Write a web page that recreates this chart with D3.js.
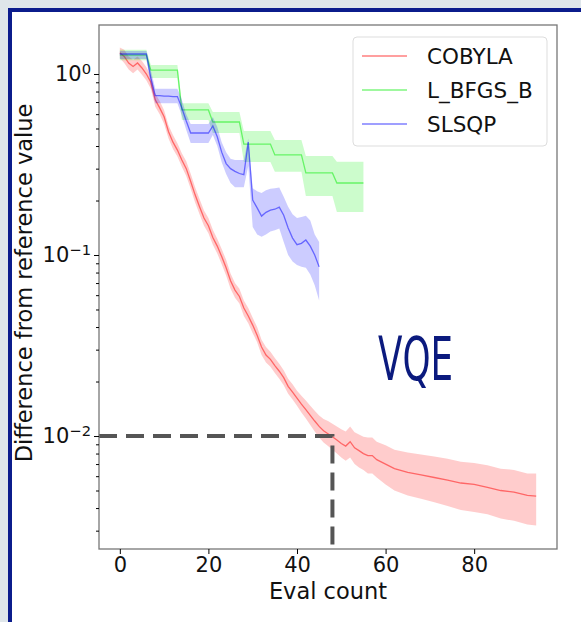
<!DOCTYPE html>
<html>
<head>
<meta charset="utf-8">
<script src="https://cdn.jsdelivr.net/npm/d3@7"></script>
<style>
body { margin: 0; background: #dfe6ea; }
svg { display: block; }
</style>
</head>
<body>
<svg></svg>
<script>
var seriesNames = ['COBYLA', 'L_BFGS_B', 'SLSQP'];
var seriesColors = ['#ff0000', '#00ee00', '#0000ff'];

var xTicks = [0, 20, 40, 60, 80];
var yTicks = [1, 0.1, 0.01];
var yTickExponents = ['0', '\u22121', '\u22122'];

var cobylaEval = [0, 1, 2, 3, 4, 5, 6, 7, 8, 9, 10, 11, 12, 13, 14, 15, 16, 17, 18, 19,
    20, 21, 22, 23, 24, 25, 26, 27, 28, 29, 30, 31, 32, 33, 34, 35, 36, 37, 38, 39,
    40, 41, 42, 43, 44, 45, 46, 47, 48, 49, 50, 51, 52, 53, 54, 55, 56, 57, 58,
    60, 62, 65, 68, 71, 74, 77, 80, 83, 86, 89, 92, 94];
var cobylaMean = [1.31, 1.25, 1.15, 1.10, 1.15, 1.08, 1.00, 0.90, 0.72, 0.65, 0.58, 0.48, 0.42, 0.38, 0.335, 0.30, 0.255, 0.215, 0.185, 0.16,
    0.145, 0.125, 0.112, 0.098, 0.085, 0.072, 0.064, 0.059, 0.051, 0.046, 0.041, 0.036, 0.031, 0.028, 0.0265, 0.0245, 0.0228, 0.021, 0.0188, 0.0175,
    0.0162, 0.015, 0.014, 0.013, 0.0121, 0.0113, 0.0107, 0.0103, 0.0099, 0.0095, 0.0091, 0.0088, 0.0093, 0.0086, 0.0083, 0.0080, 0.0078, 0.0078, 0.0074,
    0.0070, 0.0066, 0.0063, 0.0061, 0.0059, 0.0057, 0.0055, 0.0054, 0.0052, 0.0050, 0.0049, 0.0047, 0.00466];
var cobylaLow = [1.22, 1.15, 1.06, 1.01, 1.06, 0.99, 0.92, 0.83, 0.66, 0.60, 0.53, 0.44, 0.385, 0.35, 0.307, 0.273, 0.232, 0.195, 0.168, 0.145,
    0.132, 0.114, 0.102, 0.089, 0.077, 0.065, 0.058, 0.054, 0.046, 0.042, 0.037, 0.033, 0.028, 0.0255, 0.0241, 0.0223, 0.0207, 0.0191, 0.0171, 0.0159,
    0.0147, 0.0135, 0.0125, 0.0115, 0.0106, 0.0098, 0.0092, 0.0088, 0.0084, 0.0080, 0.0076, 0.0073, 0.0076, 0.0070, 0.0067, 0.0065, 0.0062, 0.0062, 0.0059,
    0.0054, 0.0050, 0.0047, 0.0045, 0.0043, 0.0041, 0.0039, 0.0038, 0.0037, 0.0035, 0.0034, 0.00324, 0.0032];
var cobylaHigh = [1.40, 1.36, 1.25, 1.20, 1.25, 1.18, 1.09, 0.98, 0.78, 0.71, 0.63, 0.52, 0.46, 0.415, 0.365, 0.33, 0.281, 0.237, 0.204, 0.176,
    0.16, 0.138, 0.123, 0.108, 0.094, 0.079, 0.070, 0.065, 0.056, 0.051, 0.045, 0.040, 0.034, 0.031, 0.0292, 0.027, 0.0251, 0.0231, 0.0207, 0.0193,
    0.0178, 0.0167, 0.0157, 0.0147, 0.0138, 0.013, 0.0124, 0.0121, 0.0117, 0.0113, 0.0109, 0.0106, 0.0113, 0.0105, 0.0102, 0.0099, 0.0098, 0.0098, 0.0093,
    0.0089, 0.0084, 0.0081, 0.0079, 0.0077, 0.0075, 0.0072, 0.0071, 0.0069, 0.0066, 0.0065, 0.0062, 0.0062];

var lbfgsbMean = [1.27, 1.27, 1.27, 1.27, 1.27, 1.27, 1.27,
    1.05, 1.05, 1.05, 1.05, 1.05, 1.05, 1.05,
    0.633, 0.633, 0.633, 0.633, 0.633, 0.633, 0.633,
    0.543, 0.543, 0.543, 0.543, 0.543, 0.543, 0.543,
    0.41, 0.41, 0.41, 0.41, 0.41, 0.41, 0.41,
    0.357, 0.357, 0.357, 0.357, 0.357, 0.357, 0.357,
    0.284, 0.284, 0.284, 0.284, 0.284, 0.284, 0.284,
    0.25, 0.25, 0.25, 0.25, 0.25, 0.25, 0.25];
var lbfgsbLow = [1.19, 1.19, 1.19, 1.19, 1.19, 1.19, 1.19,
    0.95, 0.95, 0.95, 0.95, 0.95, 0.95, 0.95,
    0.557, 0.557, 0.557, 0.557, 0.557, 0.557, 0.557,
    0.472, 0.472, 0.472, 0.472, 0.472, 0.472, 0.472,
    0.326, 0.326, 0.326, 0.326, 0.326, 0.326, 0.326,
    0.288, 0.288, 0.288, 0.288, 0.288, 0.288, 0.288,
    0.212, 0.212, 0.212, 0.212, 0.212, 0.212, 0.212,
    0.173, 0.173, 0.173, 0.173, 0.173, 0.173, 0.173];
var lbfgsbHigh = [1.36, 1.36, 1.36, 1.36, 1.36, 1.36, 1.36,
    1.12, 1.12, 1.12, 1.12, 1.12, 1.12, 1.12,
    0.69, 0.69, 0.69, 0.69, 0.69, 0.69, 0.69,
    0.617, 0.617, 0.617, 0.617, 0.617, 0.617, 0.617,
    0.484, 0.484, 0.484, 0.484, 0.484, 0.484, 0.484,
    0.432, 0.432, 0.432, 0.432, 0.432, 0.432, 0.432,
    0.352, 0.352, 0.352, 0.352, 0.352, 0.352, 0.352,
    0.327, 0.327, 0.327, 0.327, 0.327, 0.327, 0.327];

var slsqpMean = [1.29, 1.29, 1.29, 1.29, 1.29, 1.29, 1.29, 0.95,
    0.76, 0.76, 0.755, 0.755, 0.75, 0.75, 0.65, 0.55,
    0.472, 0.472, 0.472, 0.472, 0.472,
    0.516, 0.45, 0.37, 0.32, 0.30, 0.29, 0.282, 0.278, 0.421,
    0.201, 0.182, 0.164, 0.172, 0.177, 0.179, 0.184, 0.166, 0.141, 0.124,
    0.114, 0.116, 0.121, 0.112, 0.10, 0.086];
var slsqpLow = [1.21, 1.21, 1.21, 1.21, 1.21, 1.21, 1.21, 0.86,
    0.69, 0.69, 0.69, 0.69, 0.69, 0.69, 0.59, 0.49,
    0.416, 0.416, 0.416, 0.416, 0.416,
    0.46, 0.40, 0.325, 0.28, 0.25, 0.237, 0.237, 0.237, 0.31,
    0.143, 0.13, 0.126, 0.13, 0.135, 0.137, 0.14, 0.118, 0.10, 0.092,
    0.088, 0.086, 0.085, 0.078, 0.068, 0.056];
var slsqpHigh = [1.34, 1.34, 1.34, 1.34, 1.34, 1.34, 1.34, 1.05,
    0.83, 0.83, 0.83, 0.83, 0.83, 0.83, 0.72, 0.60,
    0.529, 0.529, 0.529, 0.529, 0.529,
    0.578, 0.51, 0.42, 0.37, 0.34, 0.335, 0.335, 0.335, 0.44,
    0.234, 0.225, 0.22, 0.228, 0.232, 0.234, 0.236, 0.21, 0.185, 0.168,
    0.16, 0.162, 0.165, 0.155, 0.13, 0.118];

var targetEval = 48;
var targetValue = 0.01;

var width = 581;
var height = 622;
var plotLeft = 99, plotRight = 557, plotTop = 25, plotBottom = 549;
var font = 'DejaVu Sans, sans-serif';

var svg = d3.select('svg')
    .attr('width', width)
    .attr('height', height);

svg.append('rect')
    .attr('x', 10).attr('y', 10)
    .attr('width', 640).attr('height', 700)
    .attr('fill', '#ffffff')
    .attr('stroke', '#0b1c8c')
    .attr('stroke-width', 4);

var xScale = d3.scaleLinear()
    .domain([-4.7, 98.7])
    .range([plotLeft, plotRight]);
var yScale = d3.scaleLog()
    .domain([0.002376, 1.865])
    .range([plotBottom, plotTop]);

var series = [
    { evals: cobylaEval, mean: cobylaMean, lo: cobylaLow, hi: cobylaHigh },
    { evals: d3.range(lbfgsbMean.length), mean: lbfgsbMean, lo: lbfgsbLow, hi: lbfgsbHigh },
    { evals: d3.range(slsqpMean.length), mean: slsqpMean, lo: slsqpLow, hi: slsqpHigh }
];

var area = d3.area()
    .x(d => xScale(d.x))
    .y0(d => yScale(d.lo))
    .y1(d => yScale(d.hi));
var line = d3.line()
    .x(d => xScale(d.x))
    .y(d => yScale(d.m));

series.forEach(function (s, k) {
    var pts = s.evals.map((e, i) => ({ x: e, m: s.mean[i], lo: s.lo[i], hi: s.hi[i] }));
    svg.append('path')
        .datum(pts)
        .attr('d', area)
        .attr('fill', seriesColors[k])
        .attr('fill-opacity', 0.2);
    svg.append('path')
        .datum(pts)
        .attr('d', line)
        .attr('fill', 'none')
        .attr('stroke', seriesColors[k])
        .attr('stroke-opacity', 0.5)
        .attr('stroke-width', 1.3);
});

// dashed guide at the 1e-2 level
svg.append('path')
    .attr('d', 'M' + plotLeft + ',' + yScale(targetValue) +
        'H' + xScale(targetEval) + 'V' + plotBottom)
    .attr('fill', 'none')
    .attr('stroke', '#555555')
    .attr('stroke-width', 4)
    .attr('stroke-dasharray', '18,9');

svg.append('rect')
    .attr('x', plotLeft).attr('y', plotTop)
    .attr('width', plotRight - plotLeft)
    .attr('height', plotBottom - plotTop)
    .attr('fill', 'none')
    .attr('stroke', '#777777')
    .attr('stroke-width', 1.3);

var xAxis = svg.append('g')
    .attr('transform', `translate(0,${plotBottom})`)
    .call(d3.axisBottom(xScale).tickValues(xTicks).tickSize(5).tickPadding(3));
xAxis.select('.domain').remove();
xAxis.selectAll('text')
    .attr('font-family', font)
    .attr('font-size', 21)
    .attr('fill', '#111');

var yMinor = yScale.ticks().filter(v => yTicks.indexOf(v) < 0);
var yMinorAxis = svg.append('g')
    .attr('transform', `translate(${plotLeft},0)`)
    .call(d3.axisLeft(yScale).tickValues(yMinor).tickSize(3).tickFormat(''));
yMinorAxis.select('.domain').remove();

var yAxis = svg.append('g')
    .attr('transform', `translate(${plotLeft},0)`)
    .call(d3.axisLeft(yScale).tickValues(yTicks).tickSize(5).tickPadding(3));
yAxis.select('.domain').remove();
yAxis.selectAll('.tick text').each(function (d, i) {
    var t = d3.select(this)
        .text('')
        .attr('font-family', font)
        .attr('font-size', 21)
        .attr('fill', '#111');
    t.append('tspan').text('10');
    t.append('tspan')
        .attr('dy', '-0.5em')
        .attr('font-size', '0.7em')
        .text(yTickExponents[i]);
});

svg.append('text')
    .attr('x', (plotLeft + plotRight) / 2)
    .attr('y', 599)
    .attr('text-anchor', 'middle')
    .attr('font-family', font)
    .attr('font-size', 22.5)
    .attr('fill', '#111')
    .text('Eval count');

svg.append('text')
    .attr('transform', 'translate(32,283) rotate(-90)')
    .attr('text-anchor', 'middle')
    .attr('font-family', font)
    .attr('font-size', 22.5)
    .attr('fill', '#111')
    .text('Difference from reference value');

svg.append('text')
    .attr('x', 378)
    .attr('y', 380)
    .attr('textLength', 75)
    .attr('lengthAdjust', 'spacingAndGlyphs')
    .attr('font-family', 'Liberation Sans Narrow, DejaVu Sans Condensed, sans-serif')
    .attr('font-size', 60)
    .attr('fill', '#0b1a7e')
    .text('VQE');

var legend = svg.append('g');
legend.append('rect')
    .attr('x', 353).attr('y', 37)
    .attr('width', 194).attr('height', 109)
    .attr('rx', 4)
    .attr('fill', '#ffffff')
    .attr('fill-opacity', 0.8)
    .attr('stroke', '#dddddd');
seriesNames.forEach(function (name, i) {
    var ly = 56 + i * 34;
    legend.append('line')
        .attr('x1', 362).attr('x2', 407)
        .attr('y1', ly).attr('y2', ly)
        .attr('stroke', seriesColors[i])
        .attr('stroke-opacity', 0.5)
        .attr('stroke-width', 1.3);
    legend.append('text')
        .attr('x', 427)
        .attr('y', ly)
        .attr('dy', '0.36em')
        .attr('font-family', font)
        .attr('font-size', 21.5)
        .attr('fill', '#111')
        .text(name);
});
</script>
</body>
</html>
